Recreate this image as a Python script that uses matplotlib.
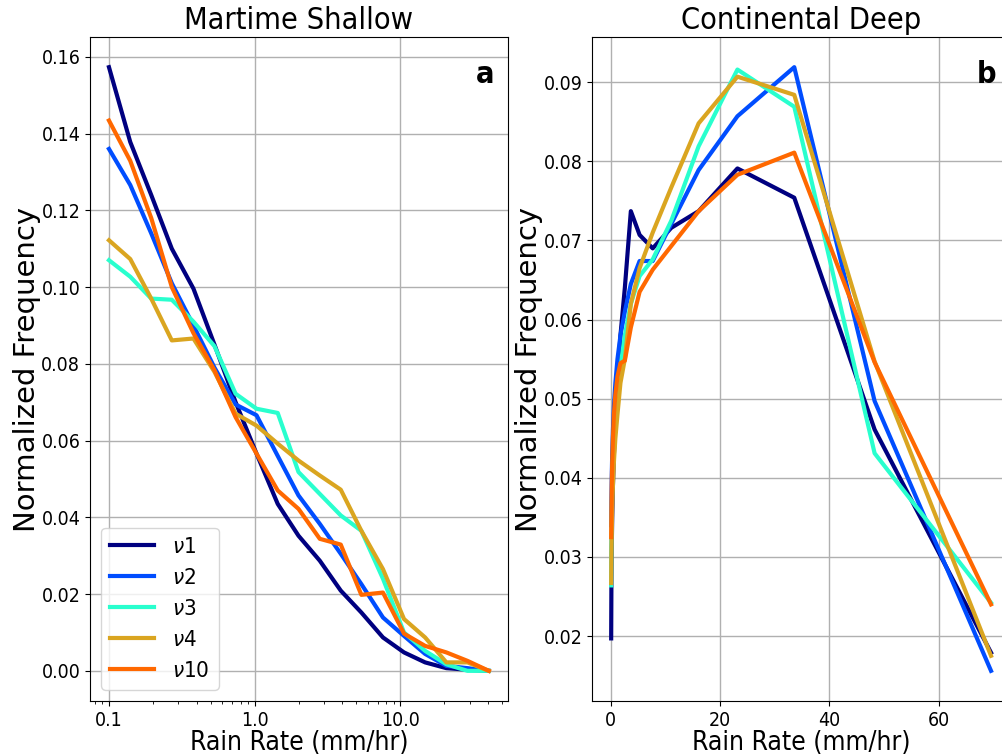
import matplotlib
matplotlib.use("Agg")
import matplotlib.pyplot as plt
from matplotlib.ticker import FormatStrFormatter

# the reference text is narrow, so ask for the condensed DejaVu face
plt.rcParams["font.family"] = ["DejaVu Sans"]
plt.rcParams["font.stretch"] = "condensed"

# Martime Shallow (log-spaced rain-rate bins)
shallow_rate = [0.1, 0.14, 0.195, 0.27, 0.38, 0.53, 0.74, 1.03, 1.44, 2.0,
                2.8, 3.9, 5.4, 7.6, 10.6, 14.8, 20.7, 28.9, 40.5]
shallow_v1 = [0.1573, 0.1378, 0.124, 0.110, 0.0996, 0.085, 0.070, 0.0566, 0.0435, 0.0352,
              0.0287, 0.0209, 0.0152, 0.0087, 0.0048, 0.0022, 0.0007, 0.0003, 0.0]
shallow_v2 = [0.1360, 0.1266, 0.114, 0.101, 0.090, 0.079, 0.0694, 0.0666, 0.056, 0.0457,
              0.0383, 0.0305, 0.0226, 0.0139, 0.0091, 0.0044, 0.0013, 0.0007, 0.0]
shallow_v3 = [0.107, 0.1027, 0.0970, 0.0967, 0.091, 0.0846, 0.0722, 0.0683, 0.0672, 0.0518,
              0.0461, 0.0405, 0.0365, 0.024, 0.0100, 0.0052, 0.0017, 0.0, 0.0]
shallow_v4 = [0.1122, 0.1073, 0.097, 0.0861, 0.0866, 0.0779, 0.067, 0.0639, 0.0592, 0.0548,
              0.0509, 0.0472, 0.0365, 0.0265, 0.0135, 0.0087, 0.0022, 0.0022, 0.0]
shallow_v10 = [0.1434, 0.1329, 0.118, 0.100, 0.088, 0.0783, 0.0661, 0.0566, 0.047, 0.0422,
               0.0344, 0.0329, 0.0198, 0.0204, 0.0097, 0.0065, 0.0048, 0.0026, 0.0]

# Continental Deep
deep_rate = [0.1, 0.14, 0.2, 0.29, 0.42, 0.6, 0.87, 1.25, 1.8, 2.6,
             3.7, 5.3, 7.7, 11.1, 16.1, 23.2, 33.6, 48.3, 69.6]
deep_v1 = [0.0197, 0.026, 0.031, 0.035, 0.039, 0.043, 0.047, 0.052, 0.058, 0.064,
           0.0737, 0.0707, 0.0690, 0.0716, 0.0737, 0.0791, 0.0754, 0.0461, 0.0179]
deep_v2 = [0.034, 0.037, 0.040, 0.043, 0.046, 0.049, 0.052, 0.055, 0.058, 0.061,
           0.0645, 0.0674, 0.0674, 0.0721, 0.0789, 0.0857, 0.0919, 0.0497, 0.0156]
deep_v3 = [0.0264, 0.031, 0.035, 0.039, 0.042, 0.045, 0.048, 0.051, 0.054, 0.058,
           0.062, 0.0655, 0.0676, 0.0725, 0.0819, 0.0916, 0.0869, 0.0431, 0.0242]
deep_v4 = [0.0267, 0.030, 0.033, 0.036, 0.039, 0.042, 0.045, 0.048, 0.052, 0.055,
           0.062, 0.0665, 0.071, 0.0767, 0.0848, 0.0907, 0.0884, 0.0547, 0.0175]
deep_v10 = [0.0325, 0.036, 0.039, 0.042, 0.045, 0.048, 0.0505, 0.0528, 0.0545, 0.0548,
            0.059, 0.0635, 0.0663, 0.0693, 0.0737, 0.0783, 0.0811, 0.0546, 0.0240]

labels = [r"$\nu$1", r"$\nu$2", r"$\nu$3", r"$\nu$4", r"$\nu$10"]
colors = ["#000080", "#004dff", "#29ffce", "#daa520", "#ff6800"]

fig = plt.figure(figsize=(10.02, 7.55), dpi=100)
ax1 = fig.add_axes([0.0898, 0.0715, 0.417, 0.8795])
ax2 = fig.add_axes([0.591, 0.0715, 0.417, 0.8795])

for ys, lab, c in zip([shallow_v1, shallow_v2, shallow_v3, shallow_v4, shallow_v10], labels, colors):
    ax1.plot(shallow_rate, ys, color=c, lw=3, label=lab)
for ys, lab, c in zip([deep_v1, deep_v2, deep_v3, deep_v4, deep_v10], labels, colors):
    ax2.plot(deep_rate, ys, color=c, lw=3, label=lab)

ax1.set_xscale("log")
ax1.set_xticks([0.1, 1, 10])
ax1.xaxis.set_major_formatter(FormatStrFormatter("%.1f"))
ax1.set_yticks([0.0, 0.02, 0.04, 0.06, 0.08, 0.10, 0.12, 0.14, 0.16])
ax1.yaxis.set_major_formatter(FormatStrFormatter("%.2f"))
ax2.set_xticks([0, 20, 40, 60])
ax2.set_yticks([0.02, 0.03, 0.04, 0.05, 0.06, 0.07, 0.08, 0.09])
ax2.yaxis.set_major_formatter(FormatStrFormatter("%.2f"))

for ax, title, letter in [(ax1, "Martime Shallow", "a"), (ax2, "Continental Deep", "b")]:
    ax.grid(True, which="major", color="#b0b0b0", lw=1)
    ax.set_title(title, fontsize=22)
    ax.set_xlabel("Rain Rate (mm/hr)", fontsize=19, labelpad=0)
    ax.set_ylabel("Normalized Frequency", fontsize=21, labelpad=0, fontstretch="normal")
    ax.tick_params(labelsize=14)
    ax.text(0.967, 0.965, letter, transform=ax.transAxes, ha="right", va="top",
            fontsize=22, fontweight="bold")

ax1.legend(loc="lower left", fontsize=16, handlelength=2.0)

fig.savefig("out.png", dpi=100)
